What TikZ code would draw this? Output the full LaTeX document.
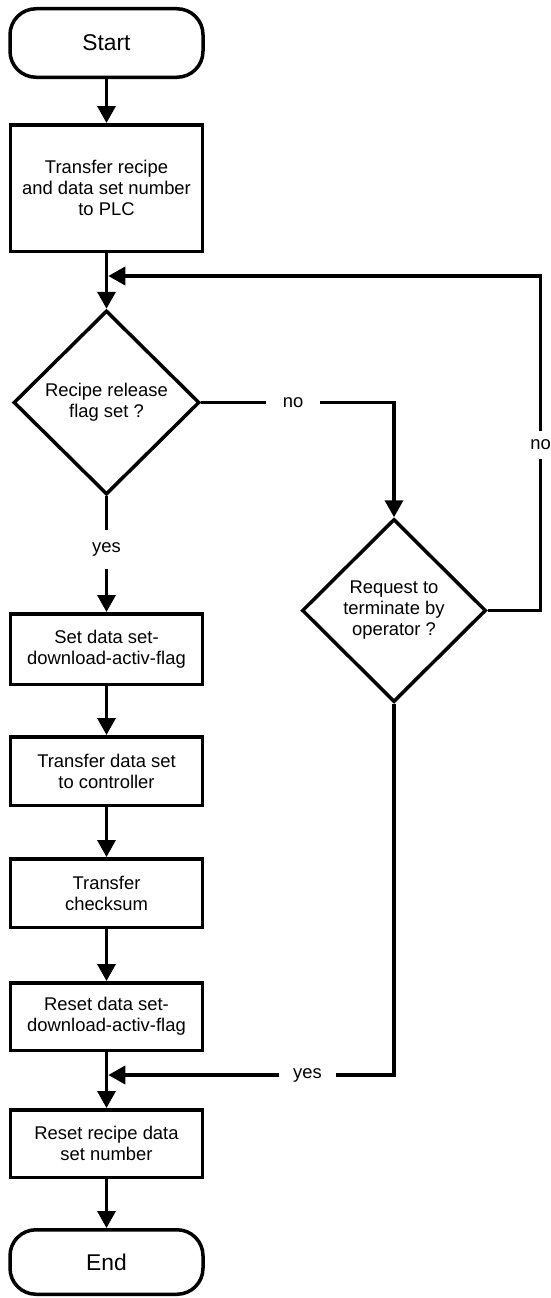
\documentclass[tikz,border=0pt]{standalone}
\usepackage{fontspec}
\setmainfont{Liberation Sans}
\usetikzlibrary{shapes.geometric,arrows.meta}
\begin{document}
\begin{tikzpicture}[x=1pt,y=-1pt,
  line width=3.5pt,
  boxfont/.style={font=\fontsize{18.4}{21}\selectfont},
  stepbox/.style={draw, rectangle, minimum width=192pt, inner sep=0pt,
    align=center, boxfont},
  term/.style={draw, rectangle, rounded corners=26pt, minimum width=193pt,
    inner sep=0pt, font=\fontsize{22.8}{26}\selectfont},
  decision/.style={draw, diamond, inner sep=0pt, align=center, boxfont},
  lbl/.style={inner sep=0pt, boxfont},
  flow/.style={-{Triangle[length=17pt,width=18pt]}},
]
\useasboundingbox (0,0) rectangle (551,1298);

% main column
\node[term, minimum height=68.5pt] (start) at (106.5,43) {Start};
\node[stepbox, minimum height=126.5pt] (b1) at (106.5,188)
  {Transfer recipe\\and data set number\\to PLC};
\node[decision, minimum width=186pt, minimum height=184pt] (d1) at (106.5,402.5)
  {Recipe release\\flag set ?};
\node[stepbox, minimum height=70.5pt] (b2) at (106.5,649)
  {Set data set-\\download-activ-flag};
\node[stepbox, minimum height=68.5pt] (b3) at (106.5,771)
  {Transfer data set\\to controller};
\node[stepbox, minimum height=68.5pt] (b4) at (106.5,893)
  {Transfer\\checksum};
\node[stepbox, minimum height=67.5pt] (b5) at (106.5,1016.5)
  {Reset data set-\\download-activ-flag};
\node[stepbox, minimum height=67.5pt] (b6) at (106.5,1143.5)
  {Reset recipe data\\set number};
\node[term, minimum height=64.5pt] (end) at (106.5,1262) {End};

% side decision
\node[decision, minimum width=184pt, minimum height=183pt] (d2) at (394,610.5)
  {Request to\\terminate by\\operator ?};

% branch labels
\node[lbl, minimum width=50pt] (no1) at (293,402.5) {no};
\node[lbl, minimum height=24pt] (no2) at (540.5,445) {no};
\node[lbl, minimum height=35pt] (yes1) at (106.5,549.5) {yes};
\node[lbl, minimum width=53pt] (yes2) at (307.5,1075) {yes};

% merge points on the main column
\coordinate (m1) at (108.25,276);
\coordinate (m2) at (108.25,1075);

% connectors
\draw[flow] (start.south) -- (b1.north);
\draw[flow] (b1.south) -- (d1.north);
\draw (d1.south) -- (yes1.north);
\draw[flow] (yes1.south) -- (b2.north);
\draw[flow] (b2.south) -- (b3.north);
\draw[flow] (b3.south) -- (b4.north);
\draw[flow] (b4.south) -- (b5.north);
\draw[flow] (b5.south) -- (b6.north);
\draw[flow] (b6.south) -- (end.north);

\draw (d1.east) -- (no1.west);
\draw[flow] (no1.east) -| (d2.north);

\draw (d2.east) -| (no2.south);
\draw[flow] (no2.north) |- (m1);

\draw (d2.south) |- (yes2.east);
\draw[flow] (yes2.west) -- (m2);
\end{tikzpicture}
\end{document}
